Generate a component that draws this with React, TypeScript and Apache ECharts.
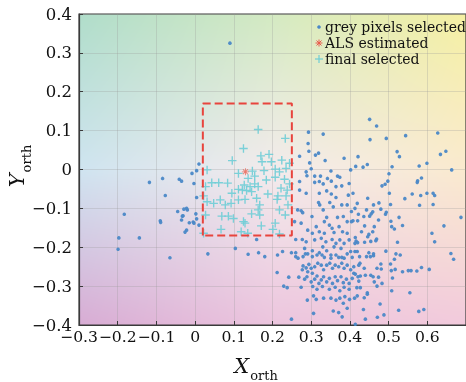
import React, { useEffect, useRef } from "react";
import * as echarts from "echarts";

// ---------------- data ----------------
const greyPixels: [number, number][] = [
  [-0.118, -0.033], [-0.084, -0.023], [-0.041, -0.025], [-0.035, -0.03], [-0.008, -0.01], [0.004, -0.003],
  [0.01, 0.014], [-0.003, -0.036], [-0.077, -0.067], [0.004, -0.072], [-0.183, -0.115], [-0.045, -0.108],
  [-0.029, -0.102], [-0.022, -0.1], [-0.02, -0.104], [-0.033, -0.12], [-0.035, -0.13], [-0.031, -0.119],
  [0.002, -0.114], [0.004, -0.127], [-0.015, -0.137], [-0.005, -0.135], [-0.003, -0.138], [0.01, -0.143],
  [-0.09, -0.132], [-0.089, -0.136], [-0.022, -0.156], [-0.026, -0.161], [-0.197, -0.176], [-0.144, -0.176],
  [-0.199, -0.205], [-0.065, -0.227], [0.033, -0.217], [0.09, 0.325],
  [0.293, 0.096], [0.331, 0.091], [0.292, 0.067], [0.294, 0.047], [0.319, 0.042], [0.311, 0.037],
  [0.27, 0.034], [0.336, 0.023], [0.385, 0.029], [0.421, 0.033], [0.296, 0.017], [0.3, 0.002],
  [0.287, -0.006], [0.351, -0.004], [0.402, -0.001], [0.415, 0.008], [0.289, -0.016], [0.309, -0.017],
  [0.324, -0.017], [0.368, -0.017], [0.374, -0.02], [0.342, -0.023], [0.352, -0.03], [0.27, -0.031],
  [0.309, -0.033], [0.321, -0.031],
  [0.451, 0.129], [0.469, 0.112], [0.452, 0.077], [0.494, 0.08], [0.544, 0.087], [0.627, 0.094],
  [0.522, 0.046], [0.528, 0.033], [0.634, 0.039], [0.648, 0.047], [0.434, 0.006], [0.445, 0.013],
  [0.509, 0.007], [0.579, 0.009], [0.599, 0.016], [0.663, -0.001], [0.501, -0.011], [0.498, -0.03],
  [0.491, -0.038], [0.575, -0.029], [0.574, -0.033], [0.585, -0.022],
  [0.483, -0.042], [0.408, -0.061], [0.446, -0.074], [0.502, -0.061], [0.542, -0.075], [0.561, -0.063],
  [0.583, -0.067], [0.599, -0.061], [0.615, -0.061], [0.619, -0.067], [0.419, -0.087], [0.461, -0.091],
  [0.475, -0.086], [0.505, -0.09], [0.58, -0.092], [0.615, -0.09], [0.413, -0.1], [0.443, -0.104],
  [0.48, -0.102], [0.494, -0.11], [0.492, -0.115], [0.422, -0.115], [0.436, -0.121], [0.451, -0.12],
  [0.455, -0.114], [0.459, -0.109], [0.527, -0.123], [0.42, -0.132], [0.408, -0.132], [0.474, -0.13],
  [0.506, -0.133], [0.508, -0.147], [0.515, -0.153], [0.536, -0.144], [0.643, -0.145], [0.438, -0.145],
  [0.463, -0.147], [0.43, -0.16], [0.449, -0.167], [0.459, -0.16], [0.414, -0.175], [0.446, -0.173],
  [0.469, -0.179], [0.467, -0.183], [0.454, -0.185], [0.438, -0.187], [0.42, -0.188], [0.416, -0.184],
  [0.413, -0.19], [0.612, -0.164], [0.619, -0.186], [0.523, -0.187], [0.493, -0.21], [0.687, -0.123],
  [0.413, -0.211], [0.419, -0.211], [0.449, -0.214], [0.443, -0.224], [0.453, -0.224], [0.461, -0.217],
  [0.461, -0.222], [0.519, -0.217], [0.53, -0.22], [0.515, -0.231], [0.661, -0.216], [0.668, -0.231],
  [0.426, -0.241], [0.423, -0.246], [0.48, -0.243], [0.47, -0.254], [0.481, -0.256], [0.437, -0.254],
  [0.505, -0.243], [0.507, -0.26], [0.517, -0.257], [0.536, -0.263], [0.551, -0.26], [0.558, -0.26],
  [0.573, -0.261], [0.585, -0.252], [0.605, -0.257], [0.41, -0.267], [0.414, -0.269], [0.427, -0.274],
  [0.421, -0.276], [0.44, -0.272], [0.454, -0.272], [0.46, -0.276], [0.474, -0.277], [0.51, -0.279],
  [0.423, -0.287], [0.463, -0.289], [0.483, -0.293], [0.47, -0.3], [0.418, -0.304], [0.427, -0.304],
  [0.508, -0.312], [0.555, -0.317], [0.445, -0.317], [0.445, -0.321], [0.419, -0.325], [0.437, -0.33],
  [0.412, -0.331], [0.478, -0.346], [0.435, -0.36], [0.526, -0.362], [0.578, -0.365], [0.591, -0.36],
  [0.488, -0.374], [0.471, -0.38], [0.44, -0.385], [0.414, -0.398],
  [0.164, -0.214], [0.18, -0.224], [0.213, -0.22], [0.226, -0.211], [0.249, -0.214], [0.26, -0.214],
  [0.26, -0.224], [0.266, -0.228], [0.279, -0.224], [0.285, -0.217], [0.291, -0.217], [0.303, -0.209],
  [0.303, -0.224], [0.315, -0.22], [0.321, -0.214], [0.328, -0.22], [0.334, -0.226], [0.34, -0.209],
  [0.351, -0.22], [0.351, -0.228], [0.364, -0.22], [0.371, -0.226], [0.379, -0.226], [0.385, -0.228],
  [0.393, -0.217], [0.402, -0.211], [0.406, -0.226], [0.425, -0.224],
  [0.279, -0.248], [0.287, -0.253], [0.294, -0.244], [0.3, -0.254], [0.309, -0.25], [0.317, -0.241],
  [0.326, -0.246], [0.332, -0.258], [0.34, -0.246], [0.348, -0.241], [0.355, -0.254], [0.362, -0.246],
  [0.371, -0.25], [0.379, -0.241], [0.385, -0.254], [0.393, -0.246], [0.402, -0.258], [0.41, -0.25],
  [0.291, -0.263], [0.303, -0.267], [0.277, -0.258], [0.212, -0.265], [0.242, -0.277], [0.268, -0.277],
  [0.283, -0.282], [0.289, -0.276], [0.3, -0.289], [0.309, -0.282], [0.315, -0.274], [0.32, -0.293],
  [0.326, -0.284], [0.332, -0.276], [0.34, -0.289], [0.347, -0.28], [0.355, -0.293], [0.362, -0.276],
  [0.368, -0.286], [0.377, -0.276], [0.383, -0.291], [0.391, -0.282], [0.398, -0.293], [0.406, -0.28],
  [0.229, -0.3], [0.238, -0.304], [0.274, -0.303], [0.304, -0.301], [0.315, -0.308], [0.329, -0.301],
  [0.347, -0.308], [0.362, -0.303], [0.374, -0.312], [0.385, -0.303], [0.398, -0.308],
  [0.306, -0.325], [0.313, -0.334], [0.332, -0.331], [0.351, -0.331], [0.364, -0.336], [0.374, -0.331],
  [0.387, -0.327], [0.399, -0.334], [0.29, -0.336], [0.383, -0.344], [0.393, -0.357], [0.357, -0.364],
  [0.371, -0.368], [0.38, -0.379], [0.306, -0.37], [0.249, -0.385],
  [0.331, -0.037], [0.364, -0.044], [0.379, -0.042], [0.398, -0.036], [0.396, -0.066], [0.27, -0.053],
  [0.287, -0.061], [0.321, -0.061], [0.34, -0.055], [0.352, -0.063], [0.364, -0.072], [0.319, -0.085],
  [0.322, -0.091], [0.348, -0.085], [0.357, -0.096], [0.379, -0.091], [0.393, -0.091], [0.404, -0.108],
  [0.278, -0.111], [0.274, -0.106], [0.302, -0.121], [0.331, -0.104], [0.34, -0.123], [0.368, -0.123],
  [0.383, -0.121], [0.393, -0.134], [0.404, -0.134], [0.257, -0.134], [0.274, -0.138], [0.313, -0.147],
  [0.334, -0.134], [0.347, -0.143], [0.354, -0.151], [0.372, -0.147], [0.381, -0.16], [0.291, -0.156],
  [0.303, -0.164], [0.321, -0.16], [0.334, -0.164], [0.359, -0.162], [0.393, -0.164], [0.26, -0.18],
  [0.277, -0.18], [0.287, -0.186], [0.309, -0.181], [0.326, -0.177], [0.338, -0.186], [0.354, -0.18],
  [0.364, -0.19], [0.374, -0.181], [0.385, -0.19], [0.398, -0.181], [0.159, -0.18], [0.283, -0.203],
  [0.33, -0.199], [0.359, -0.199], [0.377, -0.203], [0.265, -0.104], [0.137, -0.218], [0.104, -0.203],
];

const alsEstimated: [number, number][] = [[0.13, -0.006]];

const finalSelected: [number, number][] = [
  [0.163, 0.103], [0.233, 0.08], [0.125, 0.054], [0.096, 0.023], [0.17, 0.035], [0.191, 0.039],
  [0.173, 0.02], [0.197, 0.02], [0.224, 0.024], [0.244, 0.016], [0.031, -0.001], [0.112, -0.01],
  [0.148, -0.004], [0.178, -0.003], [0.207, 0.001], [0.235, 0.003], [0.218, -0.006], [0.137, -0.023],
  [0.154, -0.017], [0.184, -0.027], [0.207, -0.02], [0.231, -0.025], [0.244, -0.037], [0.043, -0.034],
  [0.061, -0.034], [0.084, -0.035], [0.027, -0.044], [0.127, -0.04], [0.142, -0.044], [0.154, -0.037],
  [0.163, -0.044], [0.112, -0.051], [0.122, -0.053], [0.133, -0.054], [0.146, -0.057], [0.095, -0.061],
  [0.222, -0.048], [0.238, -0.053], [0.188, -0.063], [0.214, -0.068], [0.235, -0.068], [0.022, -0.068],
  [0.031, -0.083], [0.048, -0.087], [0.065, -0.078], [0.078, -0.091], [0.093, -0.087], [0.112, -0.078],
  [0.129, -0.077], [0.159, -0.074], [0.167, -0.091], [0.212, -0.077], [0.24, -0.091], [0.218, -0.104],
  [0.163, -0.104], [0.146, -0.114], [0.167, -0.117], [0.233, -0.117], [0.069, -0.12], [0.086, -0.12],
  [0.027, -0.117], [0.099, -0.126], [0.125, -0.134], [0.129, -0.138], [0.171, -0.145], [0.207, -0.138],
  [0.201, -0.154], [0.067, -0.154], [0.119, -0.16], [0.136, -0.164], [0.218, -0.166], [0.022, -0.164],
];

const boxX = [0.02, 0.25];
const boxY = [-0.17, 0.17];

const xTicks = { min: -0.3, max: 0.7, step: 0.1 };
const yTicks = { min: -0.4, max: 0.4, step: 0.1 };

const legendLabels = ["grey pixels selected", "ALS estimated", "final selected"];

// ---------------- styles ----------------
const W = 466;
const H = 382;
const GRID = { left: 79, top: 14, right: -4, bottom: 57 };
const BLUE = "#4a88c7";
const CYAN = "#6ecdd6";
const RED = "#e95b4c";
const BOX_RED = "#e8443d";
const FONT = "DejaVu Serif";

const BG: number[][][] = [
  [[176, 221, 202], [212, 234, 194], [246, 240, 162]],
  [[207, 228, 240], [243, 235, 236], [250, 234, 206]],
  [[216, 172, 212], [236, 197, 222], [242, 202, 220]],
];

const CROSS = "path://M0,42 H100 V58 H0 Z M42,0 H58 V100 H42 Z";
const ASTERISK =
  "path://M0,44 H100 V56 H0 Z M44,0 H56 V100 H44 Z M19.2,10.8 L89.2,80.8 L80.8,89.2 L10.8,19.2 Z M80.8,10.8 L89.2,19.2 L19.2,89.2 L10.8,80.8 Z";

function makeBackground(w: number, h: number): string {
  const c = document.createElement("canvas");
  c.width = w;
  c.height = h;
  const ctx = c.getContext("2d");
  if (!ctx) return "";
  const img = ctx.createImageData(w, h);
  for (let y = 0; y < h; y++) {
    const v = (y / (h - 1)) * 2;
    const j = Math.min(Math.floor(v), 1);
    const fv = v - j;
    for (let x = 0; x < w; x++) {
      const u = (x / (w - 1)) * 2;
      const i = Math.min(Math.floor(u), 1);
      const fu = u - i;
      const idx = (y * w + x) * 4;
      for (let k = 0; k < 3; k++) {
        const a = BG[j][i][k] * (1 - fu) + BG[j][i + 1][k] * fu;
        const b = BG[j + 1][i][k] * (1 - fu) + BG[j + 1][i + 1][k] * fu;
        img.data[idx + k] = Math.round(a * (1 - fv) + b * fv);
      }
      img.data[idx + 3] = 255;
    }
  }
  ctx.putImageData(img, 0, 0);
  return c.toDataURL();
}

function fmt(v: number): string {
  const s = (Math.round(v * 10) / 10).toFixed(1);
  if (s === "0.0" || s === "-0.0") return "0";
  return s.replace("-", "\u2212");
}

export default function App() {
  const ref = useRef<HTMLDivElement>(null);

  useEffect(() => {
    if (!ref.current) return;
    const chart = echarts.init(ref.current, undefined, { renderer: "svg" });
    const pw = W - GRID.left - GRID.right;
    const ph = H - GRID.top - GRID.bottom;
    const bg = makeBackground(pw, ph);

    const boxPath = [
      [boxX[0], boxY[0]],
      [boxX[0], boxY[1]],
      [boxX[1], boxY[1]],
      [boxX[1], boxY[0]],
      [boxX[0], boxY[0]],
    ];

    const rich = (big: string) => ({
      text: `{a|${big}}{b|orth}`,
      align: "center",
      verticalAlign: "middle",
      rich: {
        a: { fontSize: 21, fontStyle: "italic", fontFamily: FONT, fill: "#111", color: "#111" },
        b: { fontSize: 13, fontFamily: FONT, fill: "#111", color: "#111", padding: [19, 0, 0, 1] },
      },
    });

    const legendY = [27, 43, 59];
    const lx = 319;

    const axisCommon = {
      type: "value",
      axisLine: { show: true, onZero: false, lineStyle: { color: "#3a3a3a", width: 1.2 } },
      axisTick: { show: true, inside: true, length: 4, lineStyle: { color: "#3a3a3a" } },
      splitLine: { show: true, lineStyle: { color: "rgba(150,150,150,0.28)", width: 1 } },
    };

    const option: any = {
      animation: false,
      grid: {
        ...GRID,
        show: true,
        borderColor: "#3a3a3a",
        borderWidth: 1.2,
        backgroundColor: "transparent",
      },
      xAxis: {
        ...axisCommon,
        min: xTicks.min,
        max: xTicks.max,
        interval: xTicks.step,
        axisLabel: {
          interval: 0,
          showMinLabel: true,
          showMaxLabel: false,
          hideOverlap: false,
          margin: 4,
          color: "#111",
          fontFamily: FONT,
          fontSize: 15.6,
          formatter: (v: number) => fmt(v),
        },
      },
      yAxis: {
        ...axisCommon,
        min: yTicks.min,
        max: yTicks.max,
        interval: yTicks.step,
        axisLabel: {
          interval: 0,
          showMinLabel: true,
          showMaxLabel: true,
          margin: 7,
          color: "#111",
          fontFamily: FONT,
          fontSize: 16.5,
          formatter: (v: number) => fmt(v),
        },
      },
      graphic: [
        {
          type: "image",
          z: -10,
          silent: true,
          x: GRID.left,
          y: GRID.top,
          style: { image: bg, x: 0, y: 0, width: pw, height: ph },
        },
        { type: "text", x: 256, y: 366, silent: true, style: rich("X") },
        { type: "text", x: 17, y: 166, rotation: Math.PI / 2, silent: true, style: rich("Y") },
        // legend
        { type: "circle", silent: true, shape: { cx: lx, cy: legendY[0], r: 1.8 }, style: { fill: BLUE } },
        {
          type: "group",
          silent: true,
          children: [
            { type: "line", shape: { x1: lx - 3.5, y1: legendY[1], x2: lx + 3.5, y2: legendY[1] }, style: { stroke: RED, lineWidth: 1 } },
            { type: "line", shape: { x1: lx, y1: legendY[1] - 3.5, x2: lx, y2: legendY[1] + 3.5 }, style: { stroke: RED, lineWidth: 1 } },
            { type: "line", shape: { x1: lx - 2.5, y1: legendY[1] - 2.5, x2: lx + 2.5, y2: legendY[1] + 2.5 }, style: { stroke: RED, lineWidth: 1 } },
            { type: "line", shape: { x1: lx + 2.5, y1: legendY[1] - 2.5, x2: lx - 2.5, y2: legendY[1] + 2.5 }, style: { stroke: RED, lineWidth: 1 } },
          ],
        },
        {
          type: "group",
          silent: true,
          children: [
            { type: "line", shape: { x1: lx - 4, y1: legendY[2], x2: lx + 4, y2: legendY[2] }, style: { stroke: CYAN, lineWidth: 1.2 } },
            { type: "line", shape: { x1: lx, y1: legendY[2] - 4, x2: lx, y2: legendY[2] + 4 }, style: { stroke: CYAN, lineWidth: 1.2 } },
          ],
        },
        ...legendLabels.map((t, i) => ({
          type: "text",
          silent: true,
          x: 325,
          y: legendY[i],
          style: { text: t, fontSize: 14, fontFamily: FONT, fill: "#111", align: "left", verticalAlign: "middle" },
        })),
      ],
      series: [
        {
          name: legendLabels[0],
          type: "scatter",
          data: greyPixels,
          symbol: "circle",
          symbolSize: 3.6,
          itemStyle: { color: BLUE, opacity: 0.95 },
          silent: true,
          z: 2,
        },
        {
          name: legendLabels[2],
          type: "scatter",
          data: finalSelected,
          symbol: CROSS,
          symbolSize: 8.5,
          itemStyle: { color: CYAN, opacity: 0.9 },
          silent: true,
          z: 3,
        },
        {
          name: "box",
          type: "line",
          data: boxPath,
          showSymbol: false,
          symbol: "none",
          lineStyle: { color: BOX_RED, width: 2, type: [8, 4] },
          silent: true,
          z: 4,
        },
        {
          name: legendLabels[1],
          type: "scatter",
          data: alsEstimated,
          symbol: ASTERISK,
          symbolSize: 7,
          itemStyle: { color: RED },
          silent: true,
          z: 5,
        },
      ],
    };

    chart.setOption(option);
    return () => chart.dispose();
  }, []);

  return (
    <div
      ref={ref}
      style={{ position: "fixed", left: 0, top: 0, width: W, height: H }}
    />
  );
}
